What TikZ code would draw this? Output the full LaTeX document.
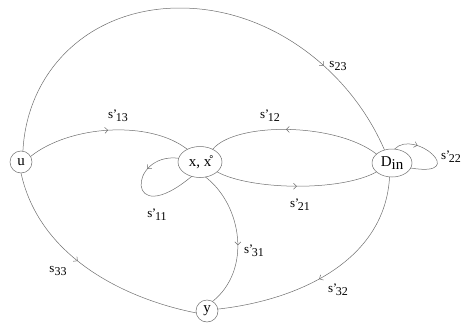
\documentclass[tikz,border=0pt]{standalone}
\usepackage{fontspec}
\setmainfont{Liberation Serif}
\usetikzlibrary{shapes.geometric,arrows.meta,decorations.markings}
\definecolor{edgeG}{HTML}{6E6E6E}
\newcommand{\lbl}{\fontsize{13}{14}\selectfont}
\newcommand{\vfnt}{\fontsize{15}{16}\selectfont}
\newcommand{\slab}[2]{s#1\raisebox{-.55ex}{\fontsize{12}{12}\selectfont #2}}

\begin{document}
\begin{tikzpicture}[x=1pt,y=-1pt,every node/.style={inner sep=0pt,outer sep=0pt},
 vtx/.style={draw=edgeG,line width=.5pt,font=\vfnt},
 edge/.style={draw=edgeG,line width=.5pt},
 midarr/.style={postaction={decorate},decoration={markings,
   mark=at position #1 with {\arrow{Straight Barb[length=3pt,width=6pt]}}}}]
\path[use as bounding box] (0,0) rectangle (461,324);
% ---------- states
\node[vtx,circle,minimum size=22pt] (u) at (21,162) {u};
\node[vtx,ellipse,minimum width=44pt,minimum height=31pt] (x) at (200,162) {x, \r{x}};
\node[vtx,ellipse,minimum width=40pt,minimum height=28pt] (din) at (392,163) {D\raisebox{-.35ex}{in}};
\node[vtx,circle,minimum size=22pt] (y) at (207,311) {y};
\coordinate (top) at (180,8);
% ---------- transitions
\draw[edge,midarr=.79] (u.80) .. controls (27,70) and (90,8) .. (top)
   .. controls (270,8) and (350,70) .. (din.120);
\draw[edge,midarr=.5] (u.30) .. controls (70,125) and (150,120) .. (x.135);
\draw[edge,midarr=.55] (din.150) .. controls (335,122) and (235,122) .. (x.45);
\draw[edge,midarr=.5] (x.-30) .. controls (250,190) and (340,192) .. (din.-150);
\draw[edge,midarr=.3] (x.170) .. controls (128,152) and (125,232) .. (x.-120);
\draw[edge,midarr=.55] (x.-70) .. controls (242,205) and (252,270) .. (y.60);
\draw[edge,midarr=.45] (u.-90) .. controls (40,260) and (130,300) .. (y.190);
\draw[edge,midarr=.55] (din.-100) .. controls (385,260) and (300,300) .. (y.10);
\draw[edge,midarr=.3] (din.80) .. controls (415,128) and (470,178) .. (din.-15);
% ---------- labels
\node[font=\lbl] (l23) at (338,66) {\slab{}{23}};
\node[font=\lbl] (l13) at (118,116) {\slab{\kern-.4pt'\kern-1.2pt}{13}};
\node[font=\lbl] (l12) at (270,116) {\slab{\kern-.4pt'\kern-1.2pt}{12}};
\node[font=\lbl] (l21) at (300,205) {\slab{\kern-.4pt'\kern-1.2pt}{21}};
\node[font=\lbl] (l11) at (157,215) {\slab{\kern-.4pt'\kern-1.2pt}{11}};
\node[font=\lbl] (l31) at (254,251) {\slab{\kern-.4pt'\kern-1.2pt}{31}};
\node[font=\lbl] (l33) at (58,271) {\slab{}{33}};
\node[font=\lbl] (l32) at (338,290) {\slab{\kern-.4pt'\kern-1.2pt}{32}};
\node[font=\lbl] (l22) at (451,157) {\slab{\kern-.4pt'\kern-1.2pt}{22}};
\end{tikzpicture}
\end{document}
